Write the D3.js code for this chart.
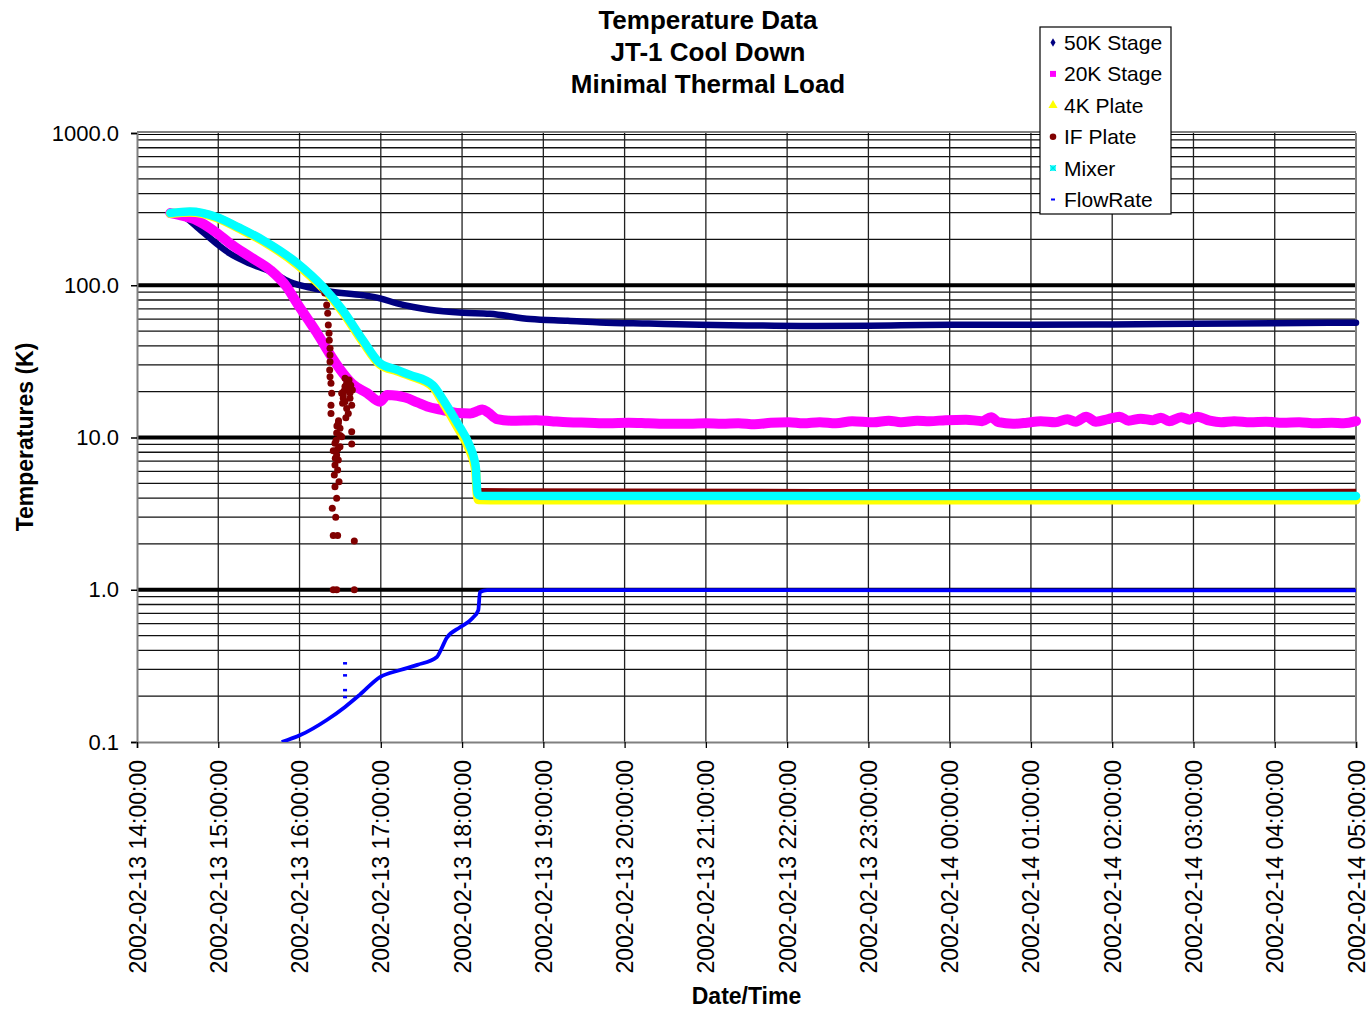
<!DOCTYPE html>
<html>
<head>
<meta charset="utf-8">
<script src="https://cdn.jsdelivr.net/npm/d3@7"></script>
<style>
  body { margin: 0; background: #fff; }
  svg { display: block; }
  text { font-family: "Liberation Sans", Arial, Helvetica, sans-serif; fill: #000; }
</style>
</head>
<body>
<svg id="chart" width="1372" height="1009"></svg>
<script>
// ---- Data: [elapsed hours since 2002-02-13 14:00, value] ----
const startTime = new Date(2002, 1, 13, 14, 0, 0);
const endTime = new Date(2002, 1, 14, 5, 0, 0);

const titleLines = ["Temperature Data", "JT-1 Cool Down", "Minimal Thermal Load"];
const yTickValues = [0.1, 1, 10, 100, 1000];
const legendNames = ["50K Stage", "20K Stage", "4K Plate", "IF Plate", "Mixer", "FlowRate"];

const stage50K = [
  [0.41, 298], [0.55, 288], [0.74, 241], [1.0, 184], [1.14, 162], [1.39, 139],
  [1.64, 123], [1.88, 105], [2.17, 95.5], [2.37, 91], [2.78, 86], [2.99, 82],
  [3.2, 76], [3.4, 72], [3.6, 69], [4.01, 66], [4.34, 65], [4.84, 60], [5.3, 58.5],
  [5.7, 57], [6.3, 56], [6.93, 55], [7.5, 54.5], [8.16, 54], [9, 54.3], [10, 55],
  [11, 55], [12, 55.3], [13, 55.8], [14, 56.3], [15, 56.8]
];

const stage20K = [
  [0.41, 298], [0.57, 285], [0.73, 268], [0.99, 219], [1.14, 189], [1.39, 154],
  [1.64, 126], [1.84, 98], [1.97, 76], [2.1, 60], [2.21, 49], [2.37, 35.5], [2.5, 28],
  [2.65, 22.5], [2.83, 19.6], [2.99, 17.2], [3.08, 19.0], [3.2, 18.8], [3.3, 18.3],
  [3.45, 17.0], [3.57, 16.0], [3.75, 15.2], [3.94, 14.5], [4.1, 14.4], [4.2, 15.0],
  [4.25, 15.3], [4.32, 14.6], [4.43, 13.2], [4.6, 12.9], [4.91, 13.0], [5.1, 12.8],
  [5.3, 12.6], [5.55, 12.5], [5.8, 12.4], [6.05, 12.5], [6.29, 12.4], [6.55, 12.3],
  [6.8, 12.3], [7.0, 12.4], [7.2, 12.3], [7.4, 12.4], [7.6, 12.2], [7.8, 12.5],
  [8.02, 12.6], [8.2, 12.4], [8.4, 12.6], [8.6, 12.4], [8.8, 12.8], [9.06, 12.6],
  [9.25, 12.9], [9.4, 12.6], [9.6, 12.9], [9.75, 12.8], [9.95, 13.0], [10.2, 13.1],
  [10.4, 12.8], [10.51, 13.6], [10.6, 12.6], [10.78, 12.3], [10.95, 12.5], [11.12, 12.8],
  [11.3, 12.6], [11.45, 13.2], [11.55, 12.7], [11.68, 13.7], [11.8, 12.7], [11.95, 13.2],
  [12.09, 13.7], [12.2, 12.9], [12.35, 13.3], [12.5, 13.0], [12.6, 13.5], [12.7, 12.8],
  [12.85, 13.6], [12.95, 13.1], [13.05, 13.7], [13.2, 12.9], [13.34, 12.6], [13.5, 12.8],
  [13.7, 12.6], [13.89, 12.7], [14.1, 12.5], [14.3, 12.6], [14.5, 12.4], [14.7, 12.5],
  [14.85, 12.4], [15, 12.8]
];

const plate4K = [
  [0.41, 296], [0.65, 302], [0.98, 278], [1.25, 237], [1.55, 195], [1.97, 137],
  [2.29, 95.5], [2.53, 67], [2.78, 42.5], [2.99, 30.2], [3.2, 27.3], [3.36, 25.4],
  [3.64, 21.5], [3.77, 16.8], [3.94, 11.8], [4.1, 8.1], [4.15, 6.7], [4.17, 5.8],
  [4.18, 4.6], [4.2, 3.9], [4.5, 3.88], [15, 3.88]
];

const ifPlateScatter = [
  [2.29, 95], [2.31, 88.9], [2.334, 74.2], [2.347, 65.5], [2.354, 54.8], [2.363, 48.3],
  [2.366, 43.6], [2.375, 38.5], [2.375, 34.8], [2.375, 31.5], [2.371, 27.8], [2.375, 25.1],
  [2.387, 22.7], [2.396, 19.5], [2.387, 16.3], [2.387, 14.4],
  [2.559, 21.6], [2.6, 20.5], [2.538, 19.0], [2.621, 18.1], [2.559, 17.2], [2.642, 16.3],
  [2.58, 15.5], [2.6, 14.4], [2.538, 18.1], [2.519, 19.5], [2.58, 22.7], [2.609, 23.9],
  [2.584, 21.1], [2.547, 20.2], [2.621, 19.6], [2.56, 24.5], [2.63, 22.0], [2.57, 13.5],
  [2.53, 16.8], [2.65, 20.5],
  [2.477, 12.4], [2.498, 11.5], [2.457, 10.7], [2.519, 10.1], [2.642, 10.9], [2.436, 9.17],
  [2.498, 8.71], [2.642, 9.07], [2.415, 8.18], [2.457, 7.67], [2.477, 7.11], [2.436, 6.59],
  [2.469, 6.12], [2.428, 5.68], [2.486, 5.13], [2.436, 4.75], [2.457, 3.99], [2.403, 3.43],
  [2.445, 2.99], [2.415, 2.27], [2.469, 2.27], [2.674, 2.09], [2.415, 1.0], [2.457, 1.0],
  [2.674, 1.0], [2.48, 12.9], [2.46, 11.9], [2.5, 10.3], [2.45, 9.6], [2.47, 8.4], [2.44, 7.3],
  [4.18, 6.1], [4.18, 5.1]
];

const ifPlateTrace = [[4.2, 4.48], [6, 4.45], [10, 4.42], [15, 4.43]];

const mixer = [
  [0.41, 298], [0.65, 305], [0.98, 281], [1.25, 240], [1.55, 198], [1.97, 140],
  [2.29, 97.5], [2.53, 68.7], [2.78, 43.6], [2.99, 30.8], [3.2, 27.8], [3.36, 25.8],
  [3.64, 22.1], [3.77, 17.6], [3.94, 12.5], [4.1, 8.67], [4.15, 7.2], [4.17, 6.3],
  [4.18, 5.0], [4.19, 4.3], [4.22, 4.15], [4.5, 4.13], [15, 4.13]
];

const flowRate = [
  [1.78, 0.1], [2.01, 0.111], [2.34, 0.14], [2.56, 0.17], [2.74, 0.204], [2.99, 0.267],
  [3.24, 0.297], [3.45, 0.321], [3.69, 0.362], [3.75, 0.414], [3.81, 0.482], [3.98, 0.569],
  [4.13, 0.652], [4.2, 0.736], [4.22, 0.966], [4.31, 0.995], [15, 0.99]
];

const flowRateSpikes = [[2.56, 0.33], [2.56, 0.275], [2.56, 0.22], [2.56, 0.198]];

// ---- Layout ----
const svg = d3.select("#chart");
const plot = { left: 137, right: 1356, top: 133, bottom: 742 };

const toDate = h => new Date(startTime.getTime() + h * 3600e3);

const x = d3.scaleTime().domain([startTime, endTime]).range([plot.left, plot.right]);
const y = d3.scaleLog().domain([0.1, 1000]).range([plot.bottom, plot.top]);

const hourTicks = d3.timeHour.range(startTime, d3.timeHour.offset(endTime, 1));
const fmtTime = d3.timeFormat("%Y-%m-%d %H:%M:%S");
const fmtY = d3.format(".1f");

// ---- Grid ----
const grid = svg.append("g");
const minorY = [];
[0.1, 1, 10, 100].forEach(d => { for (let k = 2; k <= 9; k++) minorY.push(d * k); });

grid.selectAll("line.minor").data(minorY).join("line")
  .attr("x1", plot.left).attr("x2", plot.right)
  .attr("y1", d => y(d)).attr("y2", d => y(d))
  .attr("stroke", "#111").attr("stroke-width", 1.3);

grid.selectAll("line.vgrid").data(hourTicks.slice(1, -1)).join("line")
  .attr("x1", d => x(d)).attr("x2", d => x(d))
  .attr("y1", plot.top).attr("y2", plot.bottom)
  .attr("stroke", "#222").attr("stroke-width", 1.3);

grid.selectAll("line.major").data([1, 10, 100]).join("line")
  .attr("x1", plot.left).attr("x2", plot.right)
  .attr("y1", d => y(d)).attr("y2", d => y(d))
  .attr("stroke", "#000").attr("stroke-width", 4);

// plot frame
grid.append("line").attr("x1", plot.left).attr("x2", plot.right)
  .attr("y1", y(1000) - 1).attr("y2", y(1000) - 1).attr("stroke", "#808080").attr("stroke-width", 2);
grid.append("line").attr("x1", plot.left).attr("x2", plot.right)
  .attr("y1", y(1000) + 1.5).attr("y2", y(1000) + 1.5).attr("stroke", "#000").attr("stroke-width", 1.2);
grid.append("line").attr("x1", plot.right).attr("x2", plot.right)
  .attr("y1", plot.top).attr("y2", plot.bottom).attr("stroke", "#808080").attr("stroke-width", 2);

// ---- Axes ----
const yAxis = d3.axisLeft(y).tickValues(yTickValues).tickFormat(fmtY).tickSize(6).tickPadding(12);
const gy = svg.append("g").attr("transform", `translate(${plot.left},0)`).call(yAxis);
gy.select(".domain").attr("stroke", "#808080").attr("stroke-width", 2);
gy.selectAll(".tick line").attr("stroke", "#000").attr("stroke-width", 1.5);
gy.selectAll(".tick text").attr("font-size", 22).attr("font-family", "Liberation Sans, Arial, sans-serif");

const xAxis = d3.axisBottom(x).tickValues(hourTicks).tickFormat(fmtTime).tickSize(6);
const gx = svg.append("g").attr("transform", `translate(0,${plot.bottom})`).call(xAxis);
gx.select(".domain").attr("stroke", "#808080").attr("stroke-width", 2);
gx.selectAll(".tick line").attr("stroke", "#000").attr("stroke-width", 1.3);
gx.selectAll(".tick text")
  .attr("font-size", 23).attr("font-family", "Liberation Sans, Arial, sans-serif")
  .attr("text-anchor", "end").attr("dy", null).attr("y", null)
  .attr("transform", "translate(8,18) rotate(-90)");

// ---- Series ----
svg.append("clipPath").attr("id", "plotClip").append("rect")
  .attr("x", plot.left).attr("y", plot.top - 6)
  .attr("width", plot.right - plot.left + 6).attr("height", plot.bottom - plot.top + 6);

const layer = svg.append("g").attr("clip-path", "url(#plotClip)");
const line = d3.line().x(d => x(toDate(d[0]))).y(d => y(d[1])).curve(d3.curveMonotoneX);

const lineSeries = [
  { data: stage50K, color: "#000080", width: 6.5 },
  { data: stage20K, color: "#FF00FF", width: 10 },
  { data: plate4K, color: "#FFFF00", width: 9 },
];
lineSeries.forEach(s => {
  layer.append("path").datum(s.data).attr("d", line)
    .attr("fill", "none").attr("stroke", s.color).attr("stroke-width", s.width)
    .attr("stroke-linejoin", "round").attr("stroke-linecap", "round");
});

// IF plate: scattered readings during the drop, then a steady trace
layer.selectAll("circle.ifp").data(ifPlateScatter).join("circle")
  .attr("cx", d => x(toDate(d[0]))).attr("cy", d => y(d[1])).attr("r", 3.5)
  .attr("fill", "#800000");
layer.append("path").datum(ifPlateTrace).attr("d", line)
  .attr("fill", "none").attr("stroke", "#800000").attr("stroke-width", 5);

layer.append("path").datum(mixer).attr("d", line)
  .attr("fill", "none").attr("stroke", "#00FFFF").attr("stroke-width", 8.5)
  .attr("stroke-linejoin", "round").attr("stroke-linecap", "round");

layer.append("path").datum(flowRate).attr("d", line)
  .attr("fill", "none").attr("stroke", "#0000FF").attr("stroke-width", 3.8)
  .attr("stroke-linejoin", "round");
layer.selectAll("rect.spike").data(flowRateSpikes).join("rect")
  .attr("x", d => x(toDate(d[0])) - 2).attr("y", d => y(d[1]) - 1)
  .attr("width", 4).attr("height", 2.5).attr("fill", "#0000FF");

// ---- Titles ----
svg.selectAll("text.title").data(titleLines).join("text")
  .attr("x", 708).attr("y", (d, i) => 28.5 + i * 32)
  .attr("text-anchor", "middle").attr("font-size", 26).attr("font-weight", "bold")
  .text(d => d);

svg.append("text")
  .attr("transform", `translate(33,437) rotate(-90)`)
  .attr("text-anchor", "middle").attr("font-size", 23).attr("font-weight", "bold")
  .text("Temperatures (K)");

svg.append("text")
  .attr("x", (plot.left + plot.right) / 2).attr("y", 1004)
  .attr("text-anchor", "middle").attr("font-size", 23).attr("font-weight", "bold")
  .text("Date/Time");

// ---- Legend ----
const legend = svg.append("g").attr("transform", "translate(1040,27)");
legend.append("rect").attr("width", 131).attr("height", 187)
  .attr("fill", "#fff").attr("stroke", "#000").attr("stroke-width", 1.2);

const legendColors = ["#000080", "#FF00FF", "#FFFF00", "#800000", "#00FFFF", "#0000FF"];
const legendSymbols = [d3.symbolDiamond, d3.symbolSquare, d3.symbolTriangle, d3.symbolCircle, d3.symbolSquare, null];
const legendSizes = [22, 36, 36, 34, 30, 0];

legendNames.forEach((name, i) => {
  const cy = 15.5 + i * 31.4;
  const g = legend.append("g").attr("transform", `translate(13,${cy})`);
  if (legendSymbols[i]) {
    g.append("path").attr("d", d3.symbol().type(legendSymbols[i]).size(legendSizes[i])())
      .attr("fill", legendColors[i]);
    if (i === 4) {
      g.append("path").attr("d", "M-3,-3L3,3M-3,3L3,-3").attr("stroke", "#00DDDD").attr("stroke-width", 1);
    }
  } else {
    g.append("rect").attr("x", -2).attr("y", -1).attr("width", 4).attr("height", 2).attr("fill", legendColors[i]);
  }
  legend.append("text").attr("x", 24).attr("y", cy + 7.5)
    .attr("font-size", 21).text(name);
});
</script>
</body>
</html>
